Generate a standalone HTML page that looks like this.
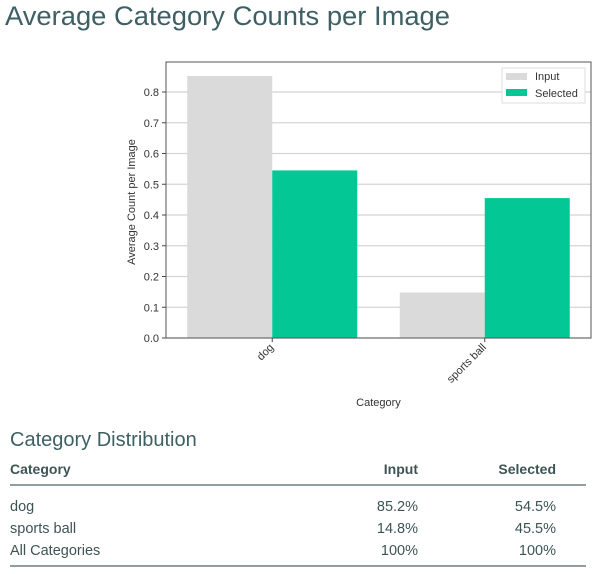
<!DOCTYPE html>
<html><head><meta charset="utf-8"><style>
html,body{margin:0;padding:0;background:#fff;width:596px;height:574px;overflow:hidden}
svg{display:block;font-family:"Liberation Sans","DejaVu Sans",sans-serif}
</style></head><body>
<svg id="c" width="596" height="574">
<text x="5" y="25" font-size="27" fill="#3e5f63" textLength="445" lengthAdjust="spacingAndGlyphs">Average Category Counts per Image</text>
<g id="plot"></g>
<text x="10" y="446" font-size="20" fill="#3e5f63">Category Distribution</text>
<g id="tbl"></g>
</svg>
<script>
const categories=["dog","sports ball"];
const inputVals=[0.852,0.148];
const selectedVals=[0.545,0.455];
const yTicks=[0,0.1,0.2,0.3,0.4,0.5,0.6,0.7,0.8];
const inputPct=["85.2%","14.8%","100%"];
const selectedPct=["54.5%","45.5%","100%"];
const rowLabels=["dog","sports ball","All Categories"];

const NS="http://www.w3.org/2000/svg";
function mk(p,t,a,txt){const e=document.createElementNS(NS,t);for(const k in a)e.setAttribute(k,a[k]);if(txt!==undefined)e.textContent=txt;p.appendChild(e);return e;}
const L=166,R=591,T=62,B=338;
const y=v=>B-v*(B-92)/0.8;
const x=i=>L+(i+0.5)*(R-L)/2;
const bw=0.4*(R-L)/2;
const g=document.getElementById('plot');
yTicks.forEach(t=>{
  const l=mk(g,'line',{x1:L,x2:R,y1:y(t),y2:y(t),stroke:'#d4d4d4','stroke-width':1.3});
  
  
  const tk=mk(g,'line',{x1:L-4,x2:L,y1:y(t),y2:y(t),stroke:'#444'});
  
  
  const tx=mk(g,'text',{x:L-7,y:y(t)+4,'font-size':11,fill:'#333','text-anchor':'end'},t.toFixed(1));
  
  
});
categories.forEach((c,i)=>{
  const b1=mk(g,'rect',{x:x(i)-bw,y:y(inputVals[i]),width:bw,height:B-y(inputVals[i]),fill:'#dadada'});
  
  
  const b2=mk(g,'rect',{x:x(i),y:y(selectedVals[i]),width:bw,height:B-y(selectedVals[i]),fill:'#03c896'});
  
  
  mk(g,'line',{x1:x(i),x2:x(i),y1:B,y2:B+4,stroke:'#444'});
  const tx=mk(g,'text',{x:x(i)+2,y:B+10,'font-size':11,fill:'#333','text-anchor':'end',transform:`rotate(-45 ${x(i)+2} ${B+10})`},c);
  
  
});
mk(g,'rect',{x:L,y:T,width:R-L,height:B-T,fill:'none',stroke:'#555','stroke-width':1});
const xt=mk(g,'text',{x:(L+R)/2,y:406,'font-size':11,fill:'#333','text-anchor':'middle'},'Category');


const yt=mk(g,'text',{x:0,y:0,'font-size':11,fill:'#333','text-anchor':'middle',transform:`translate(135 ${(T+B)/2+2}) rotate(-90)`},'Average Count per Image');


const lg=mk(g,'g',{});


mk(lg,'rect',{x:502,y:68,width:83,height:35,fill:'#fff',stroke:'#ddd'});
mk(lg,'rect',{x:506,y:73,width:21,height:7,fill:'#dadada'});
mk(lg,'text',{x:535,y:80,'font-size':11,fill:'#333'},'Input');
mk(lg,'rect',{x:506,y:89,width:21,height:7,fill:'#03c896'});
mk(lg,'text',{x:535,y:97,'font-size':11,fill:'#333'},'Selected');

const tb=document.getElementById('tbl');
const hd=[['Category',10,'start'],['Input',418,'end'],['Selected',556,'end']];
hd.forEach(h=>{const e=mk(tb,'text',{x:h[1],y:474,'font-size':14,'font-weight':'bold',fill:'#3e5454','text-anchor':h[2]},h[0]);
  
  });
mk(tb,'line',{x1:10,x2:586,y1:485,y2:485,stroke:'#6b7f80','stroke-width':1.5});
rowLabels.forEach((r,i)=>{
  const yy=511+i*22;
  const a=mk(tb,'text',{x:10,y:yy,'font-size':14.5,fill:'#3e5454'},r);
  
  
  const b=mk(tb,'text',{x:418,y:yy,'font-size':14.5,fill:'#3e5454','text-anchor':'end'},inputPct[i]);
  
  
  const c=mk(tb,'text',{x:556,y:yy,'font-size':14.5,fill:'#3e5454','text-anchor':'end'},selectedPct[i]);
  
  
});
mk(tb,'line',{x1:10,x2:586,y1:566,y2:566,stroke:'#6b7f80','stroke-width':1.5});
</script>
</body></html>
